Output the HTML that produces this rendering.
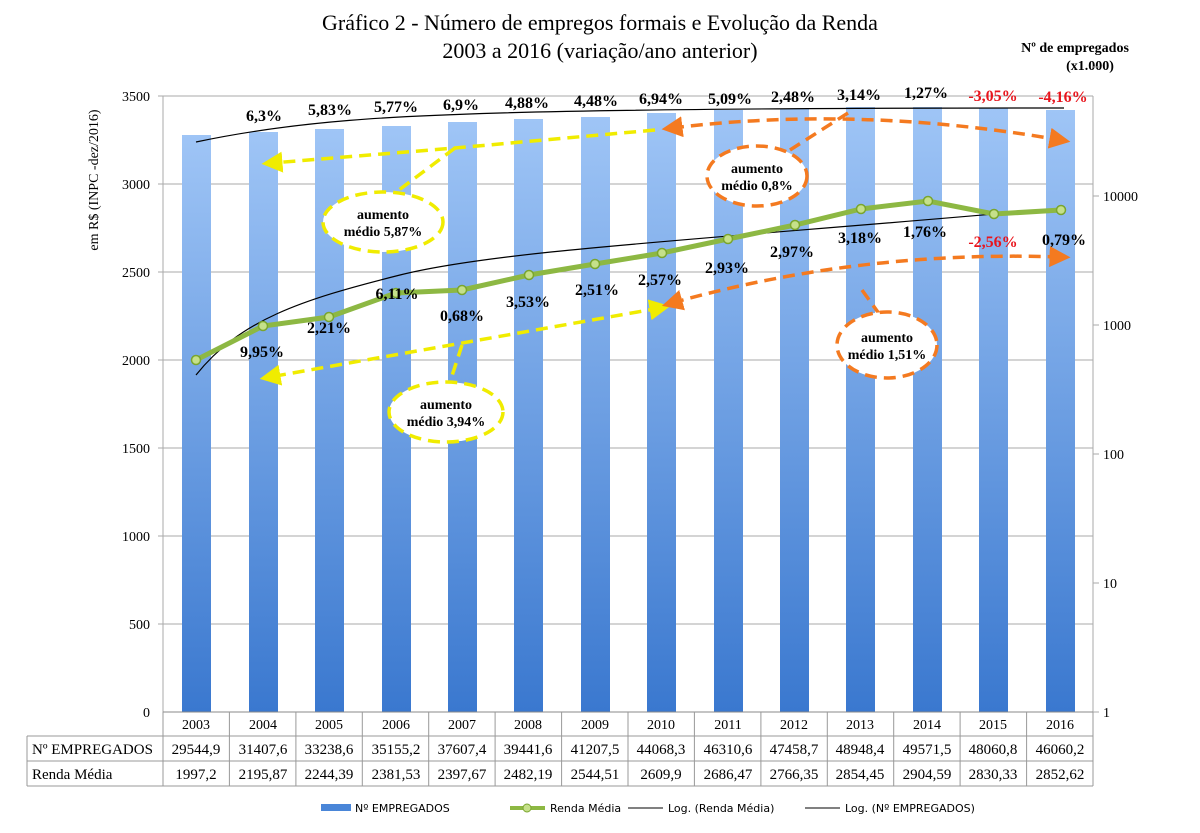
<!DOCTYPE html>
<html><head><meta charset="utf-8"><style>body{margin:0;background:#fff}svg{display:block}</style></head><body>
<svg width="1200" height="833" viewBox="0 0 1200 833" xmlns="http://www.w3.org/2000/svg" font-family="Liberation Serif, serif">
<defs>
<linearGradient id="bg" x1="0" y1="0" x2="0" y2="1"><stop offset="0" stop-color="#9fc5f6"/><stop offset="1" stop-color="#3a78cf"/></linearGradient>
<marker id="ay" viewBox="0 0 10 10" refX="5" refY="5" markerWidth="6" markerHeight="6" orient="auto-start-reverse"><path d="M0,0L10,5L0,10z" fill="#f0ec00"/></marker>
<marker id="ao" viewBox="0 0 10 10" refX="5" refY="5" markerWidth="6" markerHeight="6" orient="auto-start-reverse"><path d="M0,0L10,5L0,10z" fill="#f47a20"/></marker>
</defs>
<text x="600" y="30" font-size="22" text-anchor="middle">Gráfico 2 - Número de empregos formais e Evolução da Renda</text>
<text x="600" y="58" font-size="22" text-anchor="middle">2003 a 2016 (variação/ano anterior)</text>
<text x="1075" y="52" font-size="14" font-weight="bold" text-anchor="middle">Nº de empregados</text>
<text x="1090" y="70" font-size="14" font-weight="bold" text-anchor="middle">(x1.000)</text>
<text transform="translate(98,180) rotate(-90)" font-size="14" text-anchor="middle">em R$  (INPC -dez/2016)</text>
<g stroke="#aaa" stroke-width="1">
<line x1="158" y1="96" x2="1093" y2="96"/><line x1="158" y1="184" x2="1093" y2="184"/><line x1="158" y1="272" x2="1093" y2="272"/><line x1="158" y1="360" x2="1093" y2="360"/><line x1="158" y1="448" x2="1093" y2="448"/><line x1="158" y1="536" x2="1093" y2="536"/><line x1="158" y1="624" x2="1093" y2="624"/>
<line x1="163" y1="96" x2="163" y2="712"/><line x1="1093" y1="96" x2="1093" y2="712"/>
<line x1="1093" y1="712" x2="1099" y2="712"/><line x1="1093" y1="583" x2="1099" y2="583"/><line x1="1093" y1="454" x2="1099" y2="454"/><line x1="1093" y1="325" x2="1099" y2="325"/><line x1="1093" y1="196" x2="1099" y2="196"/><line x1="1093" y1="67" x2="1099" y2="67"/>
</g>
<g font-size="14" text-anchor="end">
<text x="150" y="101">3500</text><text x="150" y="189">3000</text><text x="150" y="277">2500</text><text x="150" y="365">2000</text><text x="150" y="453">1500</text><text x="150" y="541">1000</text><text x="150" y="629">500</text><text x="150" y="717">0</text>
</g>
<g font-size="14">
<text x="1103" y="717">1</text><text x="1103" y="588">10</text><text x="1103" y="459">100</text><text x="1103" y="330">1000</text><text x="1103" y="201">10000</text>
</g>
<g fill="url(#bg)">
<rect x="182" y="135" width="29" height="577"/><rect x="249" y="132" width="29" height="580"/><rect x="315" y="129" width="29" height="583"/><rect x="382" y="126" width="29" height="586"/><rect x="448" y="122" width="29" height="590"/><rect x="514" y="119" width="29" height="593"/><rect x="581" y="117" width="29" height="595"/><rect x="647" y="113" width="29" height="599"/><rect x="714" y="110" width="29" height="602"/><rect x="780" y="109" width="29" height="603"/><rect x="846" y="107" width="29" height="605"/><rect x="913" y="107" width="29" height="605"/><rect x="979" y="108" width="29" height="604"/><rect x="1046" y="110" width="29" height="602"/>
</g>
<line x1="163" y1="712" x2="1093" y2="712" stroke="#888"/>
<path d="M196,142 C300,120 400,116 500,113 S800,108 1064,108" fill="none" stroke="#000" stroke-width="1.2"/>
<path d="M196,375 C240,320 300,300 400,275 S700,240 1064,208" fill="none" stroke="#000" stroke-width="1.2"/>
<polyline points="196,360 263,326 329,317 396,293 462,290 529,275 595,264 662,253 728,239 795,225 861,209 928,201 994,214 1061,210" fill="none" stroke="#8db843" stroke-width="5"/>
<g fill="#c5e08a" stroke="#7aa52e" stroke-width="1.5">
<circle cx="196" cy="360" r="4.5"/><circle cx="263" cy="326" r="4.5"/><circle cx="329" cy="317" r="4.5"/><circle cx="396" cy="293" r="4.5"/><circle cx="462" cy="290" r="4.5"/><circle cx="529" cy="275" r="4.5"/><circle cx="595" cy="264" r="4.5"/><circle cx="662" cy="253" r="4.5"/><circle cx="728" cy="239" r="4.5"/><circle cx="795" cy="225" r="4.5"/><circle cx="861" cy="209" r="4.5"/><circle cx="928" cy="201" r="4.5"/><circle cx="994" cy="214" r="4.5"/><circle cx="1061" cy="210" r="4.5"/>
</g>
<g font-size="16" font-weight="bold" text-anchor="middle">
<rect x="240" y="92" width="860" height="16" fill="none"/>
<text x="264" y="121">6,3%</text><text x="330" y="115">5,83%</text><text x="396" y="112">5,77%</text><text x="461" y="110">6,9%</text><text x="527" y="108">4,88%</text><text x="596" y="106">4,48%</text><text x="661" y="104">6,94%</text><text x="730" y="104">5,09%</text><text x="793" y="102">2,48%</text><text x="859" y="100">3,14%</text><text x="926" y="98">1,27%</text><text x="993" y="101" fill="#e8141c">-3,05%</text><text x="1063" y="102" fill="#e8141c">-4,16%</text>
<text x="262" y="357">9,95%</text><text x="329" y="333">2,21%</text><text x="397" y="299">6,11%</text><text x="462" y="321">0,68%</text><text x="528" y="307">3,53%</text><text x="597" y="295">2,51%</text><text x="660" y="285">2,57%</text><text x="727" y="273">2,93%</text><text x="792" y="257">2,97%</text><text x="860" y="243">3,18%</text><text x="925" y="237">1,76%</text><text x="993" y="247" fill="#e8141c">-2,56%</text><text x="1064" y="245">0,79%</text>
</g>
<g fill="none" stroke-width="3.5" stroke-dasharray="12,7">
<path d="M655,130 L455,148 L272,163" stroke="#f0ec00" marker-end="url(#ay)"/>
<path d="M660,308 L270,377" stroke="#f0ec00" marker-end="url(#ay)" marker-start="url(#ay)"/>
<path d="M455,148 L395,193" stroke="#f0ec00"/>
<path d="M462,345 L450,382" stroke="#f0ec00"/>
<path d="M672,128 Q860,105 1060,140" stroke="#f47a20" marker-start="url(#ao)" marker-end="url(#ao)"/>
<path d="M672,303 Q860,250 1060,257" stroke="#f47a20" marker-start="url(#ao)" marker-end="url(#ao)"/>
<path d="M848,113 L790,150" stroke="#f47a20"/>
<path d="M862,290 L880,315" stroke="#f47a20"/>
</g>
<g stroke-width="3.5" stroke-dasharray="12,7">
<ellipse cx="383" cy="222" rx="60" ry="30" fill="#fff" stroke="#f0ec00"/>
<ellipse cx="446" cy="412" rx="57" ry="30" fill="#fff" stroke="#f0ec00"/>
<ellipse cx="757" cy="176" rx="50" ry="30" fill="#fff" stroke="#f47a20"/>
<ellipse cx="887" cy="345" rx="50" ry="33" fill="#fff" stroke="#f47a20"/>
</g>
<g font-size="14" font-weight="bold" text-anchor="middle">
<text x="383" y="219">aumento</text><text x="383" y="236">médio 5,87%</text>
<text x="446" y="409">aumento</text><text x="446" y="426">médio 3,94%</text>
<text x="757" y="173">aumento</text><text x="757" y="190">médio 0,8%</text>
<text x="887" y="342">aumento</text><text x="887" y="359">médio 1,51%</text>
</g>
<g stroke="#999" fill="none">
<path d="M163,712V786M27,736H1093M27,761H1093M27,786H1093M27,736V786"/>
<path d="M229.4,712V786M295.9,712V786M362.3,712V786M428.7,712V786M495.1,712V786M561.6,712V786M628,712V786M694.4,712V786M760.9,712V786M827.3,712V786M893.7,712V786M960.1,712V786M1026.6,712V786M1093,712V786"/>
</g>
<text x="32" y="754" font-size="15">Nº EMPREGADOS</text>
<text x="32" y="779" font-size="15">Renda Média</text>
<g font-size="14" text-anchor="middle">
<text x="196" y="729">2003</text><text x="263" y="729">2004</text><text x="329" y="729">2005</text><text x="396" y="729">2006</text><text x="462" y="729">2007</text><text x="528" y="729">2008</text><text x="595" y="729">2009</text><text x="661" y="729">2010</text><text x="728" y="729">2011</text><text x="794" y="729">2012</text><text x="860" y="729">2013</text><text x="927" y="729">2014</text><text x="993" y="729">2015</text><text x="1060" y="729">2016</text>
</g>
<g font-size="15" text-anchor="middle">
<text x="196" y="754">29544,9</text><text x="263" y="754">31407,6</text><text x="329" y="754">33238,6</text><text x="396" y="754">35155,2</text><text x="462" y="754">37607,4</text><text x="528" y="754">39441,6</text><text x="595" y="754">41207,5</text><text x="661" y="754">44068,3</text><text x="728" y="754">46310,6</text><text x="794" y="754">47458,7</text><text x="860" y="754">48948,4</text><text x="927" y="754">49571,5</text><text x="993" y="754">48060,8</text><text x="1060" y="754">46060,2</text>
<text x="196" y="779">1997,2</text><text x="263" y="779">2195,87</text><text x="329" y="779">2244,39</text><text x="396" y="779">2381,53</text><text x="462" y="779">2397,67</text><text x="528" y="779">2482,19</text><text x="595" y="779">2544,51</text><text x="661" y="779">2609,9</text><text x="728" y="779">2686,47</text><text x="794" y="779">2766,35</text><text x="860" y="779">2854,45</text><text x="927" y="779">2904,59</text><text x="993" y="779">2830,33</text><text x="1060" y="779">2852,62</text>
</g>
<g font-family="DejaVu Sans, sans-serif" font-size="11">
<rect x="321" y="804" width="30" height="7" fill="#4a86d8"/><text x="355" y="812">Nº EMPREGADOS</text>
<line x1="510" y1="808" x2="545" y2="808" stroke="#8db843" stroke-width="4"/><circle cx="527" cy="808" r="4" fill="#c5e08a" stroke="#7aa52e"/><text x="550" y="812">Renda Média</text>
<line x1="628" y1="808" x2="663" y2="808" stroke="#000"/><text x="668" y="812">Log. (Renda Média)</text>
<line x1="805" y1="808" x2="840" y2="808" stroke="#000"/><text x="845" y="812">Log. (Nº EMPREGADOS)</text>
</g>
</svg>
</body></html>
